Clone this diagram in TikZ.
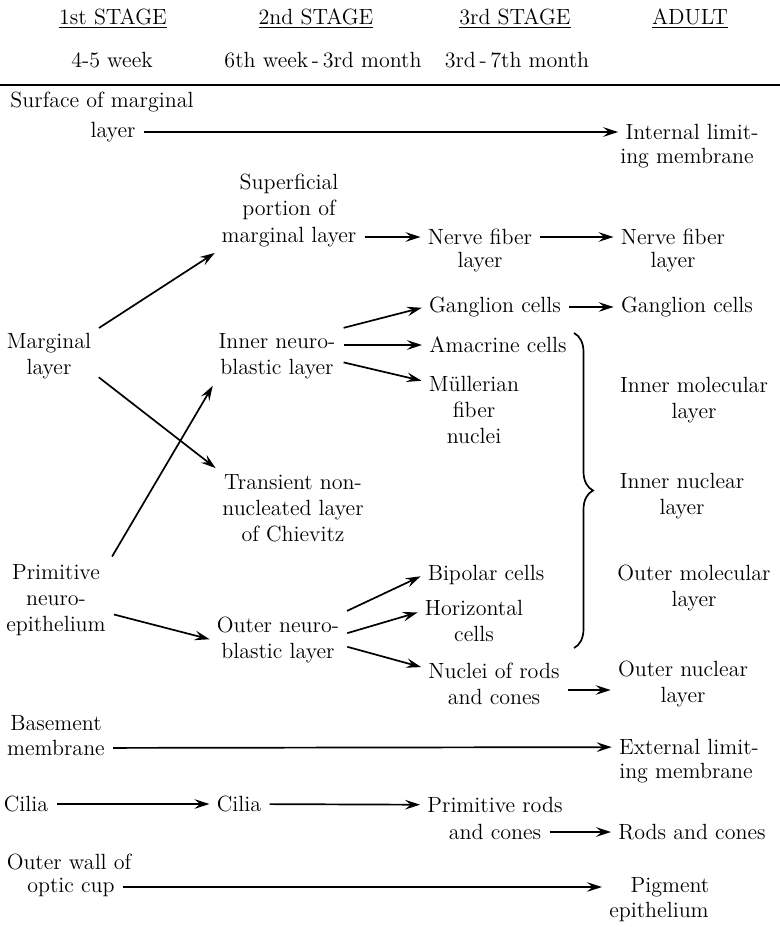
\documentclass[tikz,border=0pt]{standalone}
\usepackage{tikz}
\usetikzlibrary{arrows.meta,decorations.pathreplacing}

\begin{document}
\begin{tikzpicture}[x=0.5pt,y=-0.5pt,
    every node/.style={font=\fontsize{11}{13}\selectfont,inner sep=2pt,align=center},
    arr/.style={-{Stealth[length=7.5pt,width=4.8pt,inset=2.8pt]},line width=0.85pt,
      shorten <=2pt,shorten >=1.5pt}]
  \useasboundingbox (0,0) rectangle (780,927);
  % column heads
  \node (h1) at (113,19) {\underline{1st STAGE}};
  \node (h2) at (316,19) {\underline{2nd STAGE}};
  \node (h3) at (515,19) {\underline{3rd STAGE}};
  \node (h4) at (690,19) {\underline{ADULT}};
  \node (w1) at (112,60) {4-5 week};
  \node (w2) at (323,60) {6th week\,-\,3rd month};
  \node (w3) at (517,60) {3rd\,-\,7th month};
  \coordinate (ruleL) at (0,85);
  \coordinate (ruleR) at (780,85);
  \draw [line width=0.85pt] (ruleL) -- (ruleR);

  % 1st stage
  \node (surf) at (102,102) {Surface of marginal};
  \node (surfB) at (113,132) {layer};
  \node (marg) at (49,356) {Marginal\\layer};
  \node (prim) at (56,600) {Primitive\\neuro-\\epithelium};
  \node (basA) at (56,723) {Basement};
  \node (basB) at (56,748) {membrane};
  \node (cil1) at (26,804) {Cilia};
  \node (owA) at (69,862) {Outer wall of};
  \node (owB) at (71,887) {optic cup};

  % 2nd stage
  \node (supA) at (289,197) {Superficial\\portion of};
  \node (supB) at (289,237) {marginal layer};
  \node (inner) at (277,356) {Inner neuro-\\blastic layer};
  \node (trans) at (293,508) {Transient non-\\nucleated layer\\of Chievitz};
  \node (outer) at (278,640) {Outer neuro-\\blastic layer};
  \node (cil2) at (239,804) {Cilia};

  % 3rd stage
  \node (nflA) at (480,237) {Nerve fiber};
  \node (nflB) at (480,262) {layer};
  \node (gang) at (495,307) {Ganglion cells};
  \node (amac) at (498,345) {Amacrine cells};
  \node (mull) at (474,410) {M\"ullerian\\fiber\\nuclei};
  \node (bip) at (486,575) {Bipolar cells};
  \node (hor) at (474,621) {Horizontal\\cells};
  \node (nuc) at (494,684) {Nuclei of rods\\and cones};
  \node (prcA) at (495,805) {Primitive rods};
  \node (prcB) at (495,832) {and cones};

  % adult
  \node (ilmA) at (692,132) {Internal limit-};
  \node (ilmB) at (687,158) {ing membrane};
  \node (nflaA) at (673,237) {Nerve fiber};
  \node (nflaB) at (673,262) {layer};
  \node (ganga) at (687,307) {Ganglion cells};
  \node (iml) at (694,400) {Inner molecular\\layer};
  \node (inl) at (682,496) {Inner nuclear\\layer};
  \node (oml) at (694,588) {Outer molecular\\layer};
  \node (ona) at (683,684) {Outer nuclear\\layer};
  \node (elmA) at (689,747) {External limit-};
  \node (elmB) at (686,773) {ing membrane};
  \node (rac) at (692,832) {Rods and cones};
  \node (pigA) at (670,887) {Pigment};
  \node (pigB) at (659,912) {epithelium};

  % brace over the 3rd stage cells
  \coordinate (braceT) at (574,333);
  \coordinate (braceB) at (574,648);
  \draw [line width=0.85pt,decorate,decoration={brace,amplitude=9.5pt}] (braceT) -- (braceB);

  % connectors
  \draw [arr] (surfB) -- (ilmA);
  \draw [arr] (supB) -- (nflA);
  \draw [arr] (nflA) -- (nflaA);
  \draw [arr] (gang) -- (ganga);
  \draw [arr] (marg.29) -- (supB.south west);
  \draw [arr] (marg.-22) -- (trans.north west);
  \draw [arr] (prim.north east) -- (inner.south west);
  \draw [arr] (prim.-14) -- (outer.west);
  \draw [arr] (inner.north east) -- (gang.west);
  \draw [arr] (inner.east |- amac.west) -- (amac.west);
  \draw [arr] (inner.-5) -- (mull.150);
  \draw [arr] (outer.north east) -- (bip.west);
  \draw [arr] (outer.5) -- (hor.170);
  \draw [arr] (outer.-5) -- (nuc.167);
  \draw [arr] ([yshift=-3pt]nuc.east) -- ([yshift=-3pt]ona.west);
  \draw [arr] (basB) -- (elmA);
  \draw [arr] (cil1) -- (cil2);
  \draw [arr] (cil2) -- (prcA);
  \draw [arr] (prcB) -- (rac);
  \draw [arr] (owB) -- (pigB.west |- pigA);
\end{tikzpicture}
\end{document}
